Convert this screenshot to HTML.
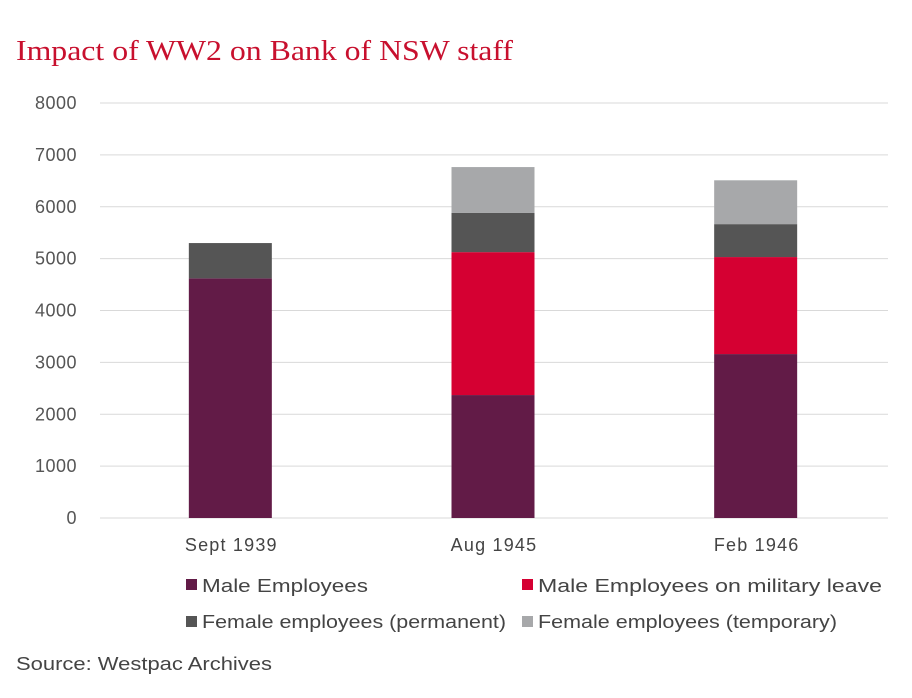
<!DOCTYPE html>
<html><head><meta charset="utf-8"><style>
body{margin:0;background:#fff;width:912px;height:693px;overflow:hidden;font-family:"Liberation Sans",sans-serif}
</style></head><body>
<svg width="912" height="693">
<text x="16" y="60" font-family="Liberation Serif, serif" font-size="29" fill="#c8102e" textLength="497" lengthAdjust="spacingAndGlyphs">Impact of WW2 on Bank of NSW staff</text>
<g id="grid"></g><g id="bars"></g><g id="xlabels"></g>
<g font-size="18" fill="#444">
<rect x="186" y="579" width="11" height="11" fill="#621b47"/>
<text x="202" y="592" fill="#444" textLength="166" lengthAdjust="spacingAndGlyphs">Male Employees</text>
<rect x="522" y="579" width="11" height="11" fill="#d50032"/>
<text x="538" y="592" fill="#444" textLength="344" lengthAdjust="spacingAndGlyphs">Male Employees on military leave</text>
<rect x="186" y="616" width="11" height="11" fill="#555"/>
<text x="202" y="628" fill="#444" textLength="304" lengthAdjust="spacingAndGlyphs">Female employees (permanent)</text>
<rect x="522" y="616" width="11" height="11" fill="#a7a8aa"/>
<text x="538" y="628" fill="#444" textLength="299" lengthAdjust="spacingAndGlyphs">Female employees (temporary)</text>
</g>
<text x="16" y="670" font-size="18" fill="#444" textLength="256" lengthAdjust="spacingAndGlyphs">Source: Westpac Archives</text>
</svg>
<script>
const categories=["Sept 1939","Aug 1945","Feb 1946"];
const maleEmployees=[4620,2370,3160];
const militaryLeave=[0,2755,1870];
const femalePermanent=[680,755,635];
const femaleTemporary=[0,885,845];
const yTicks=[0,1000,2000,3000,4000,5000,6000,7000,8000];
const ns="http://www.w3.org/2000/svg";
const y0=518,y1=103,yMax=8000;
const y=v=>y0-(v/yMax)*(y0-y1);
const left=100,right=888,bw=83;
const cx=i=>left+(right-left)*(i+0.5)/categories.length;
function mk(t,a,p){const e=document.createElementNS(ns,t);for(const k in a)e.setAttribute(k,a[k]);p.appendChild(e);return e;}
const grid=document.getElementById('grid');
yTicks.forEach(v=>{
 const l=mk('line',{x1:left,x2:right,y1:y(v),y2:y(v),stroke:'#d9d9d9','stroke-width':1},grid);
 
 
 const t=mk('text',{x:77,y:y(v)+6,'text-anchor':'end','font-size':18,fill:'#555','letter-spacing':'0.5'},grid);
 t.textContent=v;
 
 
});
const series=[[maleEmployees,'#621b47','male'],[militaryLeave,'#d50032','military'],[femalePermanent,'#555555','female-permanent'],[femaleTemporary,'#a7a8aa','female-temporary']];
const bars=document.getElementById('bars');
categories.forEach((c,i)=>{
 let base=0;
 series.forEach(s=>{
  const v=s[0][i];
  if(v>0){
   const r=mk('rect',{x:cx(i)-bw/2-1,y:y(base+v),width:bw,height:y(base)-y(base+v),fill:s[1]},bars);
   
   
  }
  base+=v;
 });
 const t=mk('text',{x:cx(i),y:551,'text-anchor':'middle','font-size':18,fill:'#444','letter-spacing':'1.2'},document.getElementById('xlabels'));
 t.textContent=c;
 
 
});
</script>
</body></html>
